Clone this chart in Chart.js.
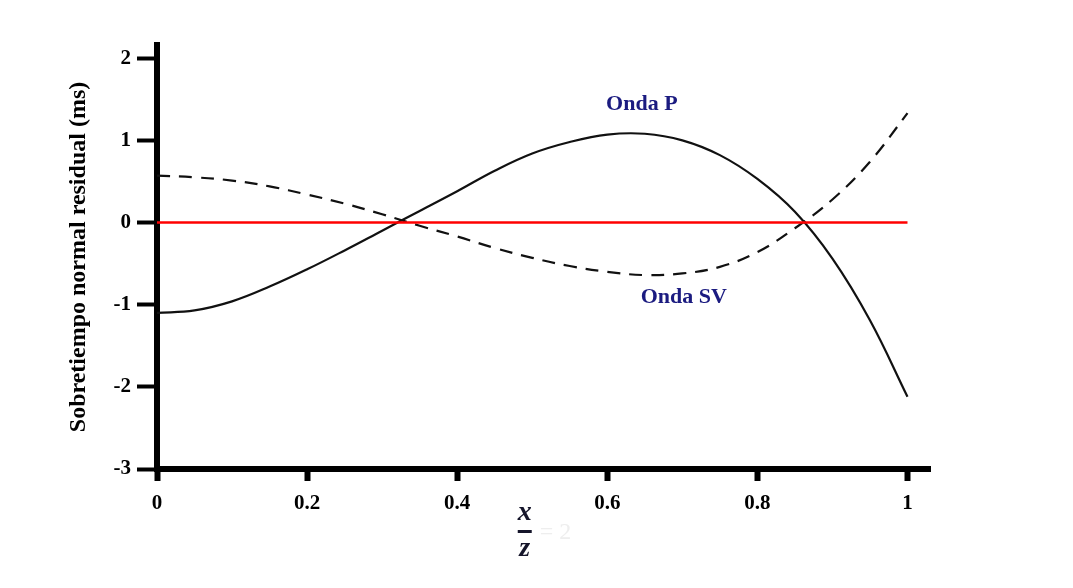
<!DOCTYPE html>
<html>
<head>
<meta charset="utf-8">
<script src="https://cdn.jsdelivr.net/npm/chart.js@4.4.0/dist/chart.umd.min.js"></script>
<style>
  html, body { margin: 0; padding: 0; background: #fff; }
  #grafico { display: block; }
</style>
</head>
<body>
<canvas id="grafico" width="1073" height="588"></canvas>
<script>
// valores
const xRel = [0, 0.05, 0.1, 0.15, 0.2, 0.25, 0.3, 0.35, 0.4, 0.45, 0.5, 0.55, 0.6, 0.65, 0.7, 0.75, 0.8, 0.85, 0.9, 0.95, 1.0];
const ondaP = [-1.10, -1.07, -0.96, -0.78, -0.57, -0.34, -0.10, 0.14, 0.38, 0.63, 0.84, 0.98, 1.07, 1.08, 1.00, 0.82, 0.53, 0.13, -0.44, -1.19, -2.12];
const ondaSV = [0.57, 0.55, 0.51, 0.44, 0.34, 0.23, 0.10, -0.04, -0.17, -0.31, -0.43, -0.53, -0.60, -0.64, -0.62, -0.54, -0.36, -0.07, 0.28, 0.74, 1.33];
const refX = [0, 1];
const refY = [0, 0];

const xTicks = [0, 0.2, 0.4, 0.6, 0.8, 1];
const yTicks = [-3, -2, -1, 0, 1, 2];

const etiquetas = [
  { texto: 'Onda P', x: 0.646, y: 1.44 },
  { texto: 'Onda SV', x: 0.702, y: -0.915 }
];

const serif = '"Liberation Serif", "Times New Roman", serif';

const toPts = (xs, ys) => xs.map((x, i) => ({ x: x, y: ys[i] }));

// textos sobre el grafico: nombres de onda y x/z
const textosPlugin = {
  id: 'textos',
  afterDatasetsDraw(chart) {
    const c = chart.ctx;
    const sx = chart.scales.x, sy = chart.scales.y;
    c.save();
    c.fillStyle = '#1b1b80';
    c.font = 'bold 22px ' + serif;
    c.textAlign = 'center';
    c.textBaseline = 'middle';
    etiquetas.forEach(e => c.fillText(e.texto, sx.getPixelForValue(e.x), sy.getPixelForValue(e.y)));

    // fraccion x / z
    const cx = sx.getPixelForValue(0.49);
    const base = chart.chartArea.bottom;
    c.fillStyle = '#15152a';
    c.font = 'italic bold 28px ' + serif;
    c.fillText('x', cx, base + 44);
    c.fillText('z', cx, base + 80);
    c.fillRect(cx - 7, base + 61, 14, 3);
    c.fillStyle = '#eeeeee';
    c.font = '24px ' + serif;
    c.textAlign = 'left';
    c.fillText('= 2', cx + 15, base + 64);
    c.restore();
  }
};

new Chart(document.getElementById('grafico'), {
  type: 'line',
  data: {
    datasets: [
      { label: 'Cero', data: toPts(refX, refY), borderColor: '#ff0000', borderWidth: 2.5, pointRadius: 0 },
      { label: 'Onda P', data: toPts(xRel, ondaP), borderColor: '#111', borderWidth: 2.2, tension: 0.4, pointRadius: 0 },
      { label: 'Onda SV', data: toPts(xRel, ondaSV), borderColor: '#111', borderWidth: 2.2, borderDash: [13, 9], tension: 0.4, pointRadius: 0 }
    ]
  },
  options: {
    responsive: false,
    devicePixelRatio: 1,
    animation: false,
    layout: { padding: { top: 45, right: 143, left: 0, bottom: 0 } },
    plugins: { legend: { display: false }, tooltip: { enabled: false } },
    scales: {
      x: {
        type: 'linear',
        min: 0,
        max: 1.03,
        afterBuildTicks: s => { s.ticks = xTicks.map(v => ({ value: v })); },
        afterFit: s => { s.height = 119; },
        border: { display: true, color: '#000', width: 6 },
        grid: { drawOnChartArea: false, drawTicks: true, tickLength: 12, tickWidth: 6, tickColor: '#000' },
        ticks: { color: '#000', padding: 10, font: { family: serif, size: 21, weight: 'bold' }, callback: v => String(v) }
      },
      y: {
        type: 'linear',
        min: -3,
        max: 2.16,
        afterBuildTicks: s => { s.ticks = yTicks.map(v => ({ value: v })); },
        afterFit: s => { s.width = 157; },
        border: { display: true, color: '#000', width: 6 },
        grid: { drawOnChartArea: false, drawTicks: true, tickLength: 20, tickWidth: 4, tickColor: '#000' },
        ticks: { color: '#000', padding: 6, font: { family: serif, size: 21, weight: 'bold' }, callback: v => String(v) },
        title: {
          display: true,
          text: 'Sobretiempo normal residual (ms)',
          color: '#000',
          font: { family: serif, size: 24, weight: 'bold' },
          padding: { top: 64, bottom: 0 }
        }
      }
    }
  },
  plugins: [textosPlugin]
});
</script>
</body>
</html>
